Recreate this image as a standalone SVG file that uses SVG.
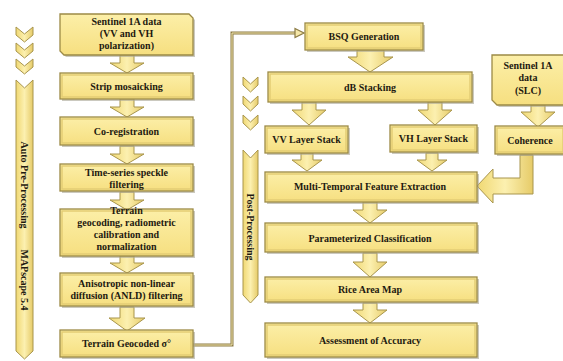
<svg xmlns="http://www.w3.org/2000/svg" width="563" height="361" viewBox="0 0 563 361">
<defs>
<linearGradient id="g" x1="0" y1="0" x2="0" y2="1">
<stop offset="0" stop-color="#FCEFA8"/>
<stop offset="1" stop-color="#F6DF80"/>
</linearGradient>
<linearGradient id="ga" x1="0" y1="0" x2="1" y2="0">
<stop offset="0" stop-color="#F0D872"/>
<stop offset="0.5" stop-color="#FCF0B0"/>
<stop offset="1" stop-color="#E6CB68"/>
</linearGradient>
</defs>
<style>
.sh{fill:#A9A595;opacity:0.6}
.box{fill:url(#g);stroke:#9C8A45;stroke-width:1.3}
.in{fill:none;stroke:#E3CD74;stroke-width:1.5}
.arr{fill:url(#ga);stroke:#A8954D;stroke-width:1}
.bar{fill:url(#ga);stroke:#A8954D;stroke-width:1}
.t{font-family:"Liberation Serif",serif;font-weight:bold;font-size:10px;fill:#1E1A10;text-anchor:middle}
.v{font-family:"Liberation Serif",serif;font-weight:bold;font-size:10px;fill:#1E1A10;text-anchor:middle}
.c1{fill:none;stroke:#8C7B45;stroke-width:3}
.c2{fill:none;stroke:#F5E9B0;stroke-width:1}
</style>

<g id="connectors">
<path class="c1" d="M193,345 H232 V33 H296"/>
<path class="c2" d="M193,345 H232 V33 H296"/>
<path d="M295,28.5 L304,33 L295,37.5 Z" fill="#F5E7A8" stroke="#8C7B45" stroke-width="1.2"/>
<polygon class="arr" points="120,55 134,55 134,63 144,63 127,73 110,63 120,63"/>
<polygon class="arr" points="120,99 134,99 134,107 144,107 127,117 110,107 120,107"/>
<polygon class="arr" points="120,146 134,146 134,154 144,154 127,164 110,154 120,154"/>
<polygon class="arr" points="120,192 134,192 134,200 144,200 127,210 110,200 120,200"/>
<polygon class="arr" points="120,256 134,256 134,263 144,263 127,273 110,263 120,263"/>
<polygon class="arr" points="120,307 134,307 134,318 145,318 127,331 109,318 120,318"/>
<polygon class="arr" points="357,50 384,50 384,57 393,57 370,72 348,57 357,57"/>
<polygon class="arr" points="302,102 316,102 316,110 326,110 309,125 292,110 302,110"/>
<polygon class="arr" points="428,102 442,102 442,110 452,110 435,125 418,110 428,110"/>
<polygon class="arr" points="531,105 545,105 545,112 555,112 538,127 521,112 531,112"/>
<polygon class="arr" points="301,153 313,153 313,160 322,160 307,171 292,160 301,160"/>
<polygon class="arr" points="426,153 438,153 438,160 447,160 432,171 417,160 426,160"/>
<polygon class="arr" points="363,202 377,202 377,210 387,210 370,223 353,210 363,210"/>
<polygon class="arr" points="363,253 377,253 377,262 387,262 370,277 353,262 363,262"/>
<polygon class="arr" points="363,303 377,303 377,310 387,310 370,323 353,310 363,310"/>
<polygon class="arr" points="520,155 533,155 533,194 493,194 493,203 477,186 493,169 493,178 520,178"/>
</g>

<g id="side-left">
<polygon class="bar" points="16,27 24.5,34 33,27 33,35 24.5,42 16,35"/>
<polygon class="bar" points="16,43 24.5,50 33,43 33,51 24.5,58 16,51"/>
<polygon class="bar" points="16,59 24.5,66 33,59 33,67 24.5,74 16,67"/>
<polygon class="bar" points="16,80 24.5,88 33,80 33,351 24.5,359 16,351"/>
<text class="v" transform="translate(21,185) rotate(90)">Auto Pre-Processing</text>
<text class="v" transform="translate(21,280) rotate(90)">MAPscape 5.4</text>
</g>

<g id="side-right">
<polygon class="bar" points="243,77 250.5,84 258,77 258,85 250.5,92 243,85"/>
<polygon class="bar" points="243,96 250.5,103 258,96 258,104 250.5,111 243,104"/>
<polygon class="bar" points="243,115 250.5,122 258,115 258,123 250.5,130 243,123"/>
<polygon class="bar" points="243,150 250.5,158 258,150 258,295 250.5,303 243,295"/>
<text class="v" transform="translate(247,227) rotate(90)">Post-Processing</text>
</g>

<g id="n-s1a">
<polygon class="sh" points="62,16 191,16 195,20 195,57 66,57 62,53"/>
<polygon class="box" points="60,14 189,14 193,18 193,55 64,55 60,51"/>
<text class="t" x="126.5" y="25">Sentinel 1A data</text>
<text class="t" x="126.5" y="37">(VV and VH</text>
<text class="t" x="126.5" y="49">polarization)</text>
</g>
<g id="n-strip">
<rect class="sh" x="62" y="75" width="133" height="26"/>
<rect class="box" x="60" y="73" width="133" height="26"/>
<rect class="in" x="62" y="75" width="129" height="22"/>
<text class="t" x="126.5" y="90">Strip mosaicking</text>
</g>
<g id="n-coreg">
<rect class="sh" x="62" y="119" width="133" height="28"/>
<rect class="box" x="60" y="117" width="133" height="28"/>
<rect class="in" x="62" y="119" width="129" height="24"/>
<text class="t" x="126.5" y="135">Co-registration</text>
</g>
<g id="n-speckle">
<rect class="sh" x="62" y="166" width="133" height="27"/>
<rect class="box" x="60" y="164" width="133" height="27"/>
<rect class="in" x="62" y="166" width="129" height="23"/>
<text class="t" x="126.5" y="176">Time-series speckle</text>
<text class="t" x="126.5" y="188">filtering</text>
</g>
<g id="n-terrain">
<rect class="sh" x="62" y="211" width="133" height="47"/>
<rect class="box" x="60" y="209" width="133" height="47"/>
<rect class="in" x="62" y="211" width="129" height="43"/>
<text class="t" x="126.5" y="214">Terrain</text>
<text class="t" x="126.5" y="226">geocoding, radiometric</text>
<text class="t" x="126.5" y="238">calibration and</text>
<text class="t" x="126.5" y="250">normalization</text>
</g>
<g id="n-anld">
<rect class="sh" x="62" y="275" width="133" height="33"/>
<rect class="box" x="60" y="273" width="133" height="33"/>
<rect class="in" x="62" y="275" width="129" height="29"/>
<text class="t" x="126.5" y="287">Anisotropic non-linear</text>
<text class="t" x="126.5" y="299">diffusion (ANLD)  filtering</text>
</g>
<g id="n-geocoded">
<rect class="sh" x="62" y="332" width="133" height="27"/>
<rect class="box" x="60" y="330" width="133" height="27"/>
<rect class="in" x="62" y="332" width="129" height="23"/>
<text class="t" x="126.5" y="347">Terrain Geocoded σ°</text>
</g>

<g id="n-bsq">
<rect class="sh" x="307" y="25" width="118" height="27"/>
<rect class="box" x="305" y="23" width="118" height="27"/>
<rect class="in" x="307" y="25" width="114" height="23"/>
<text class="t" x="364" y="40">BSQ Generation</text>
</g>
<g id="n-db">
<rect class="sh" x="270" y="74" width="204" height="30"/>
<rect class="box" x="268" y="72" width="204" height="30"/>
<rect class="in" x="270" y="74" width="200" height="26"/>
<text class="t" x="370" y="91">dB Stacking</text>
</g>
<g id="n-slc">
<polygon class="sh" points="494,57 566,57 566,107 499,107 494,102"/>
<polygon class="box" points="492,55 564,55 564,105 497,105 492,100"/>
<text class="t" x="528" y="69">Sentinel 1A</text>
<text class="t" x="528" y="81">data</text>
<text class="t" x="528" y="94">(SLC)</text>
</g>
<g id="n-vv">
<rect class="sh" x="267" y="128" width="83" height="27"/>
<rect class="box" x="265" y="126" width="83" height="27"/>
<rect class="in" x="267" y="128" width="79" height="23"/>
<text class="t" x="306.5" y="143">VV Layer Stack</text>
</g>
<g id="n-vh">
<rect class="sh" x="392" y="127" width="87" height="27"/>
<rect class="box" x="390" y="125" width="87" height="27"/>
<rect class="in" x="392" y="127" width="83" height="23"/>
<text class="t" x="433.5" y="142">VH Layer Stack</text>
</g>
<g id="n-coh">
<rect class="sh" x="497" y="128" width="70" height="28"/>
<rect class="box" x="495" y="126" width="70" height="28"/>
<rect class="in" x="497" y="128" width="66" height="24"/>
<text class="t" x="530" y="144">Coherence</text>
</g>
<g id="n-mtfe">
<rect class="sh" x="267" y="174" width="212" height="30"/>
<rect class="box" x="265" y="172" width="212" height="30"/>
<rect class="in" x="267" y="174" width="208" height="26"/>
<text class="t" x="370" y="190">Multi-Temporal Feature Extraction</text>
</g>
<g id="n-param">
<rect class="sh" x="267" y="225" width="212" height="29"/>
<rect class="box" x="265" y="223" width="212" height="29"/>
<rect class="in" x="267" y="225" width="208" height="25"/>
<text class="t" x="370" y="242">Parameterized Classification</text>
</g>
<g id="n-rice">
<rect class="sh" x="267" y="279" width="212" height="25"/>
<rect class="box" x="265" y="277" width="212" height="25"/>
<rect class="in" x="267" y="279" width="208" height="21"/>
<text class="t" x="370" y="293">Rice Area Map</text>
</g>
<g id="n-acc">
<rect class="sh" x="267" y="325" width="212" height="34"/>
<rect class="box" x="265" y="323" width="212" height="34"/>
<rect class="in" x="267" y="325" width="208" height="30"/>
<text class="t" x="370" y="344">Assessment of Accuracy</text>
</g>
</svg>
